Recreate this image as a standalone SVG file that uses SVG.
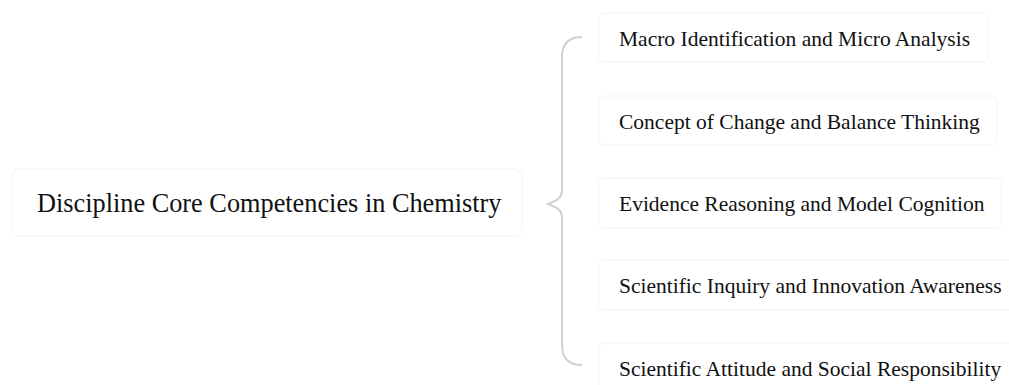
<svg xmlns="http://www.w3.org/2000/svg" width="1009" height="385" viewBox="0 0 1009 385">
<style>
.box{fill:#ffffff;stroke:#f3f3f3;stroke-width:1}
.t{font-family:"Liberation Serif","Times New Roman",serif;fill:#111111}
.main{font-size:26.3px}
.sub{font-size:21.5px}
.brace{fill:none;stroke:#d0d0d0;stroke-width:2}
</style>
<rect width="1009" height="385" fill="#ffffff"/>
<g id="connectors">
<path class="brace" d="M582,37 Q562,37 562,57 L562,190 Q562,198 555,201 L548,204 L555,207 Q562,210 562,218 L562,345 Q562,365 582,365"/>
</g>
<g id="root">
<rect class="box" x="12" y="169" width="510" height="67" rx="8"/>
<text class="t main" x="37" y="212">Discipline Core Competencies in Chemistry</text>
</g>
<g id="n1">
<rect class="box" x="599" y="13" width="389" height="49" rx="6"/>
<text class="t sub" x="619" y="46">Macro Identification and Micro Analysis</text>
</g>
<g id="n2">
<rect class="box" x="599" y="96" width="398" height="49" rx="6"/>
<text class="t sub" x="619" y="129">Concept of Change and Balance Thinking</text>
</g>
<g id="n3">
<rect class="box" x="599" y="178" width="402" height="50" rx="6"/>
<text class="t sub" x="619" y="211">Evidence Reasoning and Model Cognition</text>
</g>
<g id="n4">
<rect class="box" x="599" y="260" width="420" height="50" rx="6"/>
<text class="t sub" x="619" y="293">Scientific Inquiry and Innovation Awareness</text>
</g>
<g id="n5">
<rect class="box" x="599" y="343" width="420" height="50" rx="6"/>
<text class="t sub" x="619" y="376">Scientific Attitude and Social Responsibility</text>
</g>
</svg>
